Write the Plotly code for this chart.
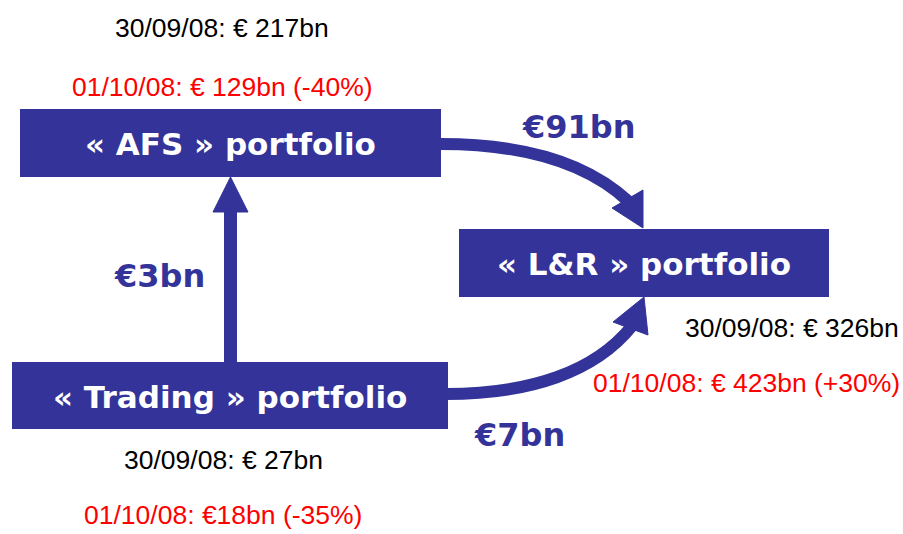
import plotly.graph_objects as go

# ---- data ----
box_labels = ["« AFS » portfolio", "« L&R » portfolio", "« Trading » portfolio"]
flow_labels = ["€91bn", "€3bn", "€7bn"]
values_0930 = ["30/09/08: € 217bn", "30/09/08: € 326bn", "30/09/08: € 27bn"]
values_1001 = ["01/10/08: € 129bn (-40%)", "01/10/08: € 423bn (+30%)", "01/10/08: €18bn (-35%)"]

BLUE = "#333399"
W, H = 903, 534

# layout geometry (pixel coordinates, y downwards)
boxes = [(20, 109, 441, 177), (459, 229, 829, 297), (12, 362, 448, 429)]
flow_pos = [(578, 127), (159, 276), (519, 435)]
v0930_pos = [(222, 28), (792, 328), (223, 460)]
v1001_pos = [(222, 87), (746, 383), (223, 515)]

fig = go.Figure()
shapes = []
annotations = []

for (x0, y0, x1, y1), lab in zip(boxes, box_labels):
    shapes.append(dict(type="rect", x0=x0, y0=y0, x1=x1, y1=y1, xref="x", yref="y",
                       fillcolor=BLUE, line=dict(width=0), layer="above"))
    annotations.append(dict(x=(x0 + x1) / 2, y=(y0 + y1) / 2 + 1, text=lab, showarrow=False,
                            xref="x", yref="y",
                            font=dict(family="DejaVu Sans", size=31, color="white", weight="bold")))

# curved arrow AFS -> L&R
shapes.append(dict(type="path", path="M 441,144 C 525,144 588,164 628,201", xref="x", yref="y",
                   line=dict(color=BLUE, width=12), layer="above"))
shapes.append(dict(type="path", path="M 643,228 L 612,208 L 643,190 Z", xref="x", yref="y",
                   fillcolor=BLUE, line=dict(color=BLUE, width=1), layer="above"))
# curved arrow Trading -> L&R
shapes.append(dict(type="path", path="M 446,394 C 530,394 595,372 632,326", xref="x", yref="y",
                   line=dict(color=BLUE, width=12), layer="above"))
shapes.append(dict(type="path", path="M 644,297 L 613,322 L 648,335 Z", xref="x", yref="y",
                   fillcolor=BLUE, line=dict(color=BLUE, width=1), layer="above"))
# vertical arrow Trading -> AFS
shapes.append(dict(type="line", x0=230.5, y0=362, x1=230.5, y1=208, xref="x", yref="y",
                   line=dict(color=BLUE, width=13), layer="above"))
shapes.append(dict(type="path", path="M 230.5,177 L 213,212 L 248,212 Z", xref="x", yref="y",
                   fillcolor=BLUE, line=dict(color=BLUE, width=1), layer="above"))

for (x, y), lab in zip(flow_pos, flow_labels):
    annotations.append(dict(x=x, y=y, text=lab, showarrow=False, xref="x", yref="y",
                            font=dict(family="DejaVu Sans", size=32, color=BLUE, weight="bold")))
for (x, y), lab in zip(v0930_pos, values_0930):
    annotations.append(dict(x=x, y=y, text=lab, showarrow=False, xref="x", yref="y",
                            font=dict(family="Liberation Sans", size=26.5, color="black")))
for (x, y), lab in zip(v1001_pos, values_1001):
    annotations.append(dict(x=x, y=y, text=lab, showarrow=False, xref="x", yref="y",
                            font=dict(family="Liberation Sans", size=26.5, color="#ff0000")))

fig.update_layout(
    width=W, height=H, margin=dict(l=0, r=0, t=0, b=0),
    paper_bgcolor="white", plot_bgcolor="white",
    xaxis=dict(range=[0, W], visible=False, fixedrange=True),
    yaxis=dict(range=[H, 0], visible=False, fixedrange=True),
    shapes=shapes, annotations=annotations, showlegend=False,
)
fig.write_html("out.html", config={"displayModeBar": False},
               post_script="document.body.style.margin='0';document.body.style.overflow='hidden';")
